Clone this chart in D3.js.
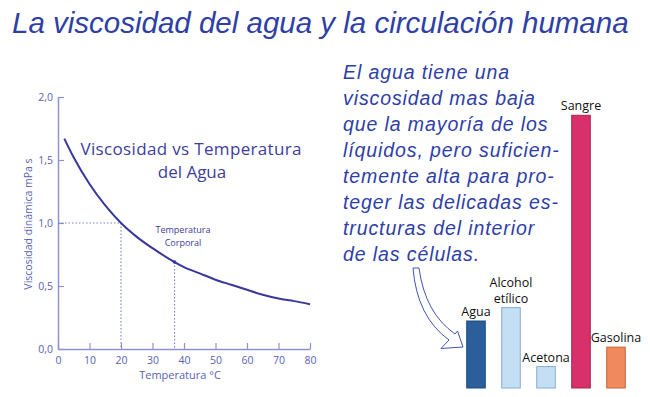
<!DOCTYPE html>
<html>
<head>
<meta charset="utf-8">
<script src="https://d3js.org/d3.v7.min.js"></script>
<style>
  html, body { margin: 0; padding: 0; background: #fff; }
  svg { display: block; }
</style>
</head>
<body>
<svg id="chart" width="650" height="397"></svg>
<script>
// curve: water viscosity (mPa s) vs temperature (°C)
var temps = [2, 5, 10, 15, 20, 25, 30, 37, 40, 45, 50, 55, 60, 65, 70, 75, 80];
var visc  = [1.67, 1.52, 1.31, 1.14, 1.00, 0.89, 0.80, 0.69, 0.65, 0.60, 0.55, 0.51, 0.47, 0.43, 0.40, 0.38, 0.355];
var xTicks = [0, 10, 20, 30, 40, 50, 60, 70, 80];
var yTicks = [0, 0.5, 1.0, 1.5, 2.0];

// bars: relative viscosity
var liquids = ["Agua", "Alcohol etílico", "Acetona", "Sangre", "Gasolina"];
var liquidVisc = [1.0, 1.2, 0.32, 4.07, 0.61];
var barFill   = ["#2b5e9b", "#c4def3", "#c4def3", "#d8306a", "#f08a5c"];
var barStroke = ["#1e4a80", "#86aed6", "#86aed6", "#a8224f", "#c9653d"];

var paragraph = [
  "El agua tiene una",
  "viscosidad mas baja",
  "que la mayoría de los",
  "líquidos, pero suficien-",
  "temente alta para pro-",
  "teger las delicadas es-",
  "tructuras del interior",
  "de las células."
];

var svg = d3.select("#chart");
var blue = "#2e40a6";
var ink = "#3d3d9c";
var axisCol = "#8f92cf";
var labelFont = "'Open Sans', sans-serif";

// main title
svg.append("text")
  .attr("x", 12).attr("y", 33)
  .attr("font-family", "'Liberation Sans', Arial, sans-serif")
  .attr("font-style", "italic")
  .attr("font-size", 29.5)
  .attr("fill", blue)
  .text("La viscosidad del agua y la circulación humana");

// ---- left line chart
var x = d3.scaleLinear().domain([0, 80]).range([58, 310]);
var y = d3.scaleLinear().domain([0, 2]).range([349, 97]);

var gx = svg.append("g").attr("transform", "translate(0," + y(0) + ")")
  .call(d3.axisBottom(x).tickValues(xTicks).tickSizeInner(-6).tickSizeOuter(0).tickPadding(10));
var gy = svg.append("g").attr("transform", "translate(" + x(0) + ",0)")
  .call(d3.axisLeft(y).tickValues(yTicks).tickSizeInner(-6).tickSizeOuter(0).tickPadding(5)
    .tickFormat(function(d) { return d3.format(".1f")(d).replace(".", ","); }));

[gx, gy].forEach(function(g) {
  g.select(".domain").attr("stroke", axisCol).attr("stroke-width", 1.5);
  g.selectAll(".tick line").attr("stroke", axisCol).attr("stroke-width", 1.2);
  g.selectAll(".tick text").attr("fill", "#5b5fb3")
    .attr("font-family", labelFont).attr("font-size", 10.5);
});
gx.selectAll(".tick text").attr("dy", "0.45em");

// guide lines
var dotted = svg.append("g").attr("stroke", "#7c82cc").attr("stroke-width", 1.1)
  .attr("stroke-dasharray", "1.5,2").attr("fill", "none");
dotted.append("line").attr("x1", x(0)).attr("x2", x(20)).attr("y1", y(1)).attr("y2", y(1));
dotted.append("line").attr("x1", x(20)).attr("x2", x(20)).attr("y1", y(1)).attr("y2", y(0));
dotted.append("line").attr("x1", x(37)).attr("x2", x(37)).attr("y1", y(0.69)).attr("y2", y(0));

var pts = temps.map(function(t, i) { return [t, visc[i]]; });
svg.append("path")
  .datum(pts)
  .attr("fill", "none")
  .attr("stroke", "#38389a")
  .attr("stroke-width", 2)
  .attr("d", d3.line().x(function(d) { return x(d[0]); }).y(function(d) { return y(d[1]); })
    .curve(d3.curveMonotoneX));

svg.append("circle").attr("cx", x(37)).attr("cy", y(0.69)).attr("r", 1.8).attr("fill", "#38389a");

var ann = svg.append("text").attr("font-family", labelFont).attr("font-size", 9)
  .attr("fill", ink).attr("text-anchor", "middle");
ann.append("tspan").attr("x", 183).attr("y", 233).text("Temperatura");
ann.append("tspan").attr("x", 183).attr("y", 246).text("Corporal");

var inner = svg.append("text").attr("font-family", labelFont).attr("font-size", 17)
  .attr("fill", ink).attr("text-anchor", "middle");
inner.append("tspan").attr("x", 191).attr("y", 155).attr("textLength", 221)
  .text("Viscosidad vs Temperatura");
inner.append("tspan").attr("x", 192).attr("y", 178).text("del Agua");

svg.append("text")
  .attr("x", x(40) - 4).attr("y", 379)
  .attr("text-anchor", "middle")
  .attr("font-family", labelFont).attr("font-size", 11)
  .attr("fill", "#5b5fb3")
  .text("Temperatura °C");

svg.append("text")
  .attr("transform", "translate(32,224) rotate(-90)")
  .attr("text-anchor", "middle")
  .attr("font-family", labelFont).attr("font-size", 10.5)
  .attr("fill", "#5b5fb3")
  .text("Viscosidad dinámica  mPa s");

// ---- paragraph
var para = svg.append("text")
  .attr("font-family", "'Liberation Sans', Arial, sans-serif")
  .attr("font-style", "italic")
  .attr("font-size", 19.5)
  .attr("letter-spacing", 0.9)
  .attr("fill", blue);
paragraph.forEach(function(line, i) {
  para.append("tspan").attr("x", 343).attr("y", 79 + i * 26).text(line);
});

// ---- bar chart
var bx = d3.scaleBand().domain(liquids).range([458.5, 633.5]).paddingInner(0.47).paddingOuter(0.235);
var by = d3.scaleLinear().domain([0, 4]).range([388, 120]);

svg.append("g").selectAll("rect")
  .data(liquids)
  .join("rect")
  .attr("x", function(d) { return bx(d); })
  .attr("y", function(d, i) { return by(liquidVisc[i]); })
  .attr("width", bx.bandwidth())
  .attr("height", function(d, i) { return by(0) - by(liquidVisc[i]); })
  .attr("fill", function(d, i) { return barFill[i]; })
  .attr("stroke", function(d, i) { return barStroke[i]; })
  .attr("stroke-width", 1);

// one text per line so the two-line label keeps its own boxes
var labelLines = [];
liquids.forEach(function(d, i) {
  var words = d.split(" ");
  words.forEach(function(w, k) {
    labelLines.push({ key: d, value: liquidVisc[i], word: w, up: words.length - 1 - k });
  });
});

svg.append("g").selectAll("text")
  .data(labelLines)
  .join("text")
  .attr("text-anchor", "middle")
  .attr("font-family", labelFont)
  .attr("font-size", 12.5)
  .attr("fill", "#111")
  .attr("x", function(d) { return bx(d.key) + bx.bandwidth() / 2; })
  .attr("y", function(d) { return by(d.value) - 5 - d.up * 15.5; })
  .text(function(d) { return d.word; });

// arrow pointing at the water bar
var p = d3.path();
p.moveTo(413, 268);
p.lineTo(419, 268);
p.quadraticCurveTo(425, 313, 455, 334);
p.lineTo(457.5, 331);
p.lineTo(463, 347);
p.lineTo(441, 348.5);
p.lineTo(449, 340);
p.quadraticCurveTo(417, 317, 413, 268);
p.closePath();
svg.append("path").attr("d", p.toString())
  .attr("fill", "#fff").attr("stroke", "#3f55b3").attr("stroke-width", 1);
</script>
</body>
</html>
